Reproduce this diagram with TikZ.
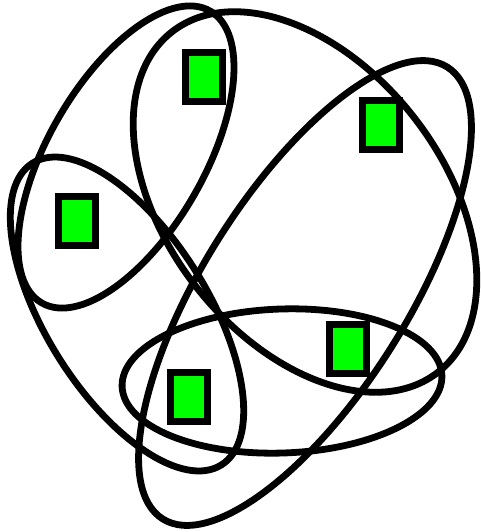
\documentclass[tikz,border=0pt]{standalone}
\usetikzlibrary{positioning}

\begin{document}
\begin{tikzpicture}[
  x=1pt, y=-1pt,
  %% hyperedge outline
  hedge/.style={draw=black, line width=6.8pt},
  %% vertex box
  vbox/.style={
    rectangle, draw=black, fill=green, line width=6.8pt,
    minimum width=37pt, minimum height=49pt, inner sep=0pt
  },
]
\useasboundingbox (0,0) rectangle (480,532);

%% ── Hyperedges (rotated ellipses) ───────────────────────────────────────────
%% edge A: top-left vertex pair
\draw[hedge, rotate around={60:(126,157)}]
  (126,157) ellipse [x radius=168.5, y radius=78];
%% edge B: three-vertex edge across the top right
\draw[hedge, rotate around={-52:(305,202)}]
  (305,202) ellipse [x radius=216, y radius=138];
%% edge C: left vertex to bottom vertex
\draw[hedge, rotate around={-58:(127,314)}]
  (127,314) ellipse [x radius=178, y radius=81];
%% edge D: long diagonal edge
\draw[hedge, rotate around={57.8:(305,293)}]
  (305,293) ellipse [x radius=267, y radius=102];
%% edge E: flat edge at the bottom
\draw[hedge, rotate around={2:(282,381)}]
  (282,381) ellipse [x radius=160, y radius=72];

%% ── Vertices ───────────────────────────────────────────────────────────────
\node[vbox] (v1) at (204,77)  {};
\node[vbox] (v2) at (381,125) {};
\node[vbox] (v3) at (77,221)  {};
\node[vbox] (v4) at (348,349) {};
\node[vbox] (v5) at (189,397) {};

\end{tikzpicture}
\end{document}
